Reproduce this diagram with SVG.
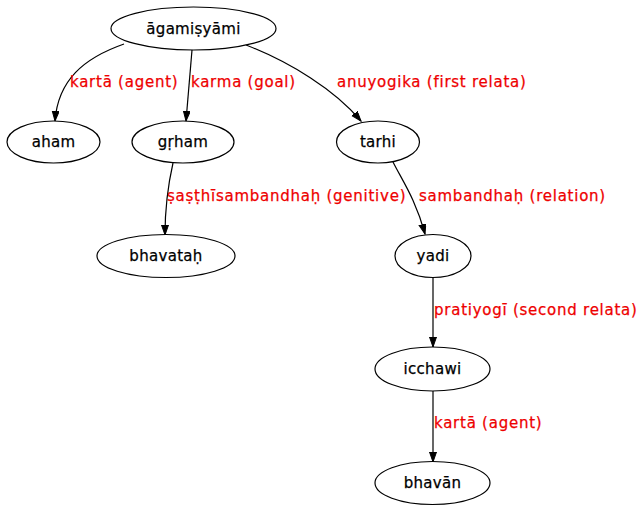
<svg xmlns="http://www.w3.org/2000/svg" width="642" height="511" viewBox="0 0 642 511">
<style>
.node ellipse{fill:#fff;stroke:#000;stroke-width:1.2}
.node text{font-family:"DejaVu Sans",sans-serif;font-size:15px;fill:#000;stroke:#000;stroke-width:0.25;text-anchor:middle;letter-spacing:0.3px}
.edge path{fill:none;stroke:#000;stroke-width:1.2}
.lbl{font-family:"DejaVu Sans",sans-serif;font-size:15px;fill:#e00;stroke:#e00;stroke-width:0.25;letter-spacing:0.75px}
</style>
<defs>
<marker id="ah" markerUnits="userSpaceOnUse" markerWidth="11" markerHeight="8" refX="10" refY="3.5" orient="auto" viewBox="0 0 11 8">
<path d="M0,0 L10,3.5 L0,7 z" fill="#000" stroke="#000" stroke-width="1"/>
</marker>
</defs>
<rect width="642" height="511" fill="#fff"/>
<g id="edges">
<g class="edge" id="e1"><path d="M124,44 C84,58 58,80 55,121" marker-end="url(#ah)"/></g>
<g class="edge" id="e2"><path d="M192,50 C190,75 188,98 186,121" marker-end="url(#ah)"/></g>
<g class="edge" id="e3"><path d="M246,45 C290,62 335,90 361,121" marker-end="url(#ah)"/></g>
<g class="edge" id="e4"><path d="M173,163 C168,185 165,210 165,235" marker-end="url(#ah)"/></g>
<g class="edge" id="e5"><path d="M393,162 C402,180 416,200 425,234" marker-end="url(#ah)"/></g>
<g class="edge" id="e6"><path d="M433,278 L433,347" marker-end="url(#ah)"/></g>
<g class="edge" id="e7"><path d="M433,391 L433,462" marker-end="url(#ah)"/></g>
</g>
<g id="labels">
<text class="lbl" x="70" y="87">kartā (agent)</text>
<text class="lbl" x="191" y="87">karma (goal)</text>
<text class="lbl" x="337" y="87">anuyogika (first relata)</text>
<text class="lbl" x="167" y="201">ṣaṣṭhīsambandhaḥ (genitive)</text>
<text class="lbl" x="419" y="201">sambandhaḥ (relation)</text>
<text class="lbl" x="434" y="315">pratiyogī (second relata)</text>
<text class="lbl" x="434" y="428">kartā (agent)</text>
</g>
<g class="node" id="n_agamisyami"><ellipse cx="193.5" cy="28.5" rx="82.5" ry="21.5"/><text x="193.5" y="34">āgamiṣyāmi</text></g>
<g class="node" id="n_aham"><ellipse cx="53.5" cy="142" rx="46.5" ry="21"/><text x="53.5" y="147">aham</text></g>
<g class="node" id="n_grham"><ellipse cx="183" cy="142" rx="51" ry="21"/><text x="183" y="147">gṛham</text></g>
<g class="node" id="n_tarhi"><ellipse cx="378" cy="142" rx="41.5" ry="21"/><text x="378" y="147">tarhi</text></g>
<g class="node" id="n_bhavatah"><ellipse cx="166" cy="256" rx="69" ry="21.5"/><text x="166" y="261">bhavataḥ</text></g>
<g class="node" id="n_yadi"><ellipse cx="433" cy="256" rx="38" ry="21.5"/><text x="433" y="261">yadi</text></g>
<g class="node" id="n_icchawi"><ellipse cx="432.5" cy="369" rx="57.5" ry="22"/><text x="432.5" y="374">icchawi</text></g>
<g class="node" id="n_bhavan"><ellipse cx="432.5" cy="483" rx="57.5" ry="21.5"/><text x="432.5" y="488">bhavān</text></g>
</svg>
